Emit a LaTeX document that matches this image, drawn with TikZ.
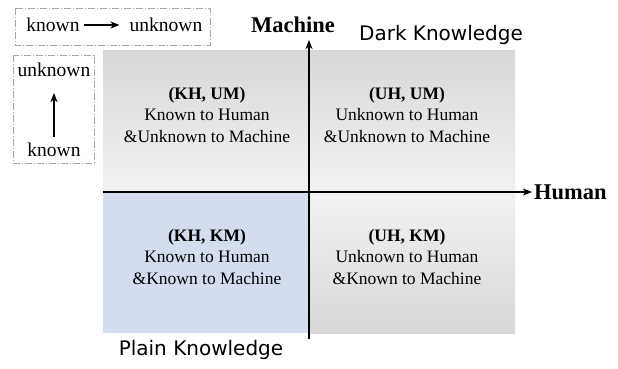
\documentclass[tikz,border=0pt]{standalone}
\usepackage{xcolor}
\usepackage{fontspec}
\setmainfont{Liberation Serif}
\newfontfamily\handfont{DejaVu Sans}
\usepackage{tikz}
\usetikzlibrary{arrows.meta}
\definecolor{plainblue}{RGB}{212,221,238}
\definecolor{darkgray}{RGB}{216,216,216}
\definecolor{lightgray}{RGB}{242,242,242}

\begin{document}
\begin{tikzpicture}[x=1pt,y=-1pt]
			\tikzstyle{legend}=[draw=gray!70, dash pattern=on 7pt off 2pt on 1pt off 2pt, line width=0.6pt]
			\tikzstyle{word}=[font=\fontsize{19.5}{22}\selectfont, inner sep=4pt]
			\tikzstyle{quad}=[align=center, font=\fontsize{17.5}{21.5}\selectfont]
			\tikzstyle{axisname}=[font=\fontsize{22.5}{26}\selectfont\bfseries]
			\tikzstyle{zone}=[font=\handfont\fontsize{20}{22}\selectfont]
			\tikzset{edge/.style = {-{Stealth[length=9pt,width=7pt,inset=2.5pt]}, line width=1.2pt}}
			
			\useasboundingbox (0,0) rectangle (618,368);
			
			\shade[top color=darkgray, bottom color=lightgray] (103,50) rectangle (309,192);
			\shade[top color=darkgray, bottom color=lightgray] (309,50) rectangle (515,192);
			\fill[plainblue] (103,192) rectangle (309,333);
			\shade[top color=lightgray, bottom color=darkgray] (309,192) rectangle (515,333);
			
			\draw[legend] (15,8) rectangle (210,45);
			\draw[legend] (13,55) rectangle (94,163);
			
			\node[word](k1) at (53,25) {known};
			\node[word](u1) at (166,25) {unknown};
			\node[word](u2) at (54,70) {unknown};
			\node[word](k2) at (54,150) {known};
			\draw[edge, shorten >=6pt] (k1) -- (u1);
			\draw[edge, shorten >=12pt, shorten <=2pt] (k2) -- (u2);
			
			\node[quad](khum) at (207,115) {\textbf{(KH, UM)}\\Known to Human\\\&Unknown to Machine};
			\node[quad](uhum) at (407,115) {\textbf{(UH, UM)}\\Unknown to Human\\\&Unknown to Machine};
			\node[quad](khkm) at (207,257) {\textbf{(KH, KM)}\\Known to Human\\\&Known to Machine};
			\node[quad](uhkm) at (407,257) {\textbf{(UH, KM)}\\Unknown to Human\\\&Known to Machine};
			
			\coordinate (hs) at (103,192);
			\coordinate (he) at (532,192);
			\coordinate (ms) at (309,339);
			\coordinate (me) at (309,40);
			\draw[edge] (hs) -- (he);
			\draw[edge] (ms) -- (me);
			\node[axisname, anchor=west, inner sep=2pt](human) at (he) {Human};
			\node[axisname](machine) at (293,25) {Machine};
			
			\node[zone](dark) at (441,35) {Dark Knowledge};
			\node[zone](plain) at (201,350) {Plain Knowledge};
\end{tikzpicture}
\end{document}
